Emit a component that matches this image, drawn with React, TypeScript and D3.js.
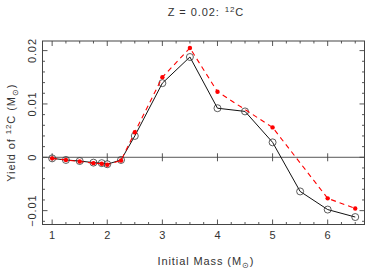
import React from "react";
import * as d3 from "d3";

const massBlack = [1, 1.25, 1.5, 1.75, 1.9, 2, 2.25, 2.5, 3, 3.5, 4, 4.5, 5, 5.5, 6, 6.5];
const yieldBlack = [-0.0002, -0.0005, -0.0007, -0.001, -0.0011, -0.0013, -0.0005, 0.004, 0.0139, 0.0188, 0.0092, 0.0086, 0.0028, -0.0064, -0.0098, -0.0112];
const massRed = [1, 1.25, 1.5, 1.75, 1.9, 2, 2.25, 2.5, 3, 3.5, 4, 5, 6, 6.5];
const yieldRed = [-0.0002, -0.0005, -0.0008, -0.0011, -0.0012, -0.0014, -0.0006, 0.0047, 0.015, 0.0205, 0.0123, 0.0056, -0.0077, -0.0096];
const xTicks = [1, 2, 3, 4, 5, 6];
const yTicks = [-0.01, 0, 0.01, 0.02];
const yTickLabels = ["\u22120.01", "0", "0.01", "0.02"];

const W = 368, H = 273;
const L = 42.5, R = 364.5, T = 41, B = 224.5;
const FONT = "Liberation Sans, Arial, Helvetica, sans-serif";
const TXT = "#333";
const FRAME = "#444";
const LS = 0.9;

export default function App() {
  const x = d3.scaleLinear().domain([0.825, 6.668]).range([L, R]);
  const y = d3.scaleLinear().domain([-0.0126, 0.0218]).range([B, T]);
  const xMinor = d3.range(1, 6.76, 0.25);
  const yMinor = d3.range(-0.012, 0.0211, 0.002);
  const line = d3.line<[number, number]>().x(d => x(d[0])).y(d => y(d[1]));
  const black: [number, number][] = massBlack.map((m, i) => [m, yieldBlack[i]]);
  const red: [number, number][] = massRed.map((m, i) => [m, yieldRed[i]]);
  const isMajorX = (v: number) => Math.abs(v - Math.round(v)) < 1e-6;
  const isMajorY = (v: number) => Math.abs(v / 0.01 - Math.round(v / 0.01)) < 1e-6;

  return (
    <svg width={W} height={H} style={{ position: "absolute", left: 0, top: 0, background: "#fff" }} fontFamily={FONT}>
      {/* title */}
      <text x={206} y={15.5} textAnchor="middle" fontSize={11} fill={TXT} letterSpacing={LS}>
        Z = 0.02:
        <tspan dx={5} dy={-4} fontSize={8}>12</tspan>
        <tspan dy={4}>C</tspan>
      </text>
      {/* zero line */}
      <line x1={L} x2={R} y1={y(0)} y2={y(0)} stroke={FRAME} strokeWidth={0.9} />
      {xTicks.map(v => (
        <line key={"z" + v} x1={x(v)} x2={x(v)} y1={y(0) - 4} y2={y(0) + 4} stroke={FRAME} strokeWidth={0.9} />
      ))}
      {/* ticks */}
      {xMinor.map(v => {
        const len = isMajorX(v) ? 5 : 2.5;
        return (
          <g key={"xt" + v}>
            <line x1={x(v)} x2={x(v)} y1={B} y2={B - len} stroke={FRAME} strokeWidth={0.9} />
            <line x1={x(v)} x2={x(v)} y1={T} y2={T + len} stroke={FRAME} strokeWidth={0.9} />
          </g>
        );
      })}
      {yMinor.map(v => {
        const len = isMajorY(v) ? 5 : 2.5;
        return (
          <g key={"yt" + v}>
            <line x1={L} x2={L + len} y1={y(v)} y2={y(v)} stroke={FRAME} strokeWidth={0.9} />
            <line x1={R} x2={R - len} y1={y(v)} y2={y(v)} stroke={FRAME} strokeWidth={0.9} />
          </g>
        );
      })}
      {/* frame */}
      <rect x={L} y={T} width={R - L} height={B - T} fill="none" stroke={FRAME} strokeWidth={1} />
      {/* tick labels */}
      {xTicks.map(v => (
        <text key={"xl" + v} x={x(v)} y={238.5} textAnchor="middle" fontSize={11} fill={TXT}>{v}</text>
      ))}
      {yTicks.map((v, i) => (
        <text key={"yl" + v} transform={`translate(35.5,${y(v)}) rotate(-90)`} textAnchor="middle" fontSize={11} fill={TXT} letterSpacing={LS}>{yTickLabels[i]}</text>
      ))}
      {/* axis titles */}
      <text x={206} y={265} textAnchor="middle" fontSize={11} fill={TXT} letterSpacing={LS}>
        Initial Mass (M<tspan dy={3} fontSize={8}>⊙</tspan><tspan dy={-3}>)</tspan>
      </text>
      <text transform={`translate(15,${(T + B) / 2}) rotate(-90)`} textAnchor="middle" fontSize={11} fill={TXT} letterSpacing={LS}>
        Yield of <tspan dy={-4} fontSize={8}>12</tspan><tspan dy={4}>C (M</tspan><tspan dy={3} fontSize={8}>⊙</tspan><tspan dy={-3}>)</tspan>
      </text>
      {/* black series */}
      <path d={line(black) ?? ""} fill="none" stroke="#111" strokeWidth={1} />
      {black.map((d, i) => (
        <circle key={"b" + i} cx={x(d[0])} cy={y(d[1])} r={3.5} fill="none" stroke="#333" strokeWidth={0.8} />
      ))}
      {/* red series */}
      <path d={line(red) ?? ""} fill="none" stroke="#ff0000" strokeWidth={1.1} strokeDasharray="5,4" />
      {red.map((d, i) => (
        <circle key={"r" + i} cx={x(d[0])} cy={y(d[1])} r={2.2} fill="#ff0000" />
      ))}
    </svg>
  );
}
